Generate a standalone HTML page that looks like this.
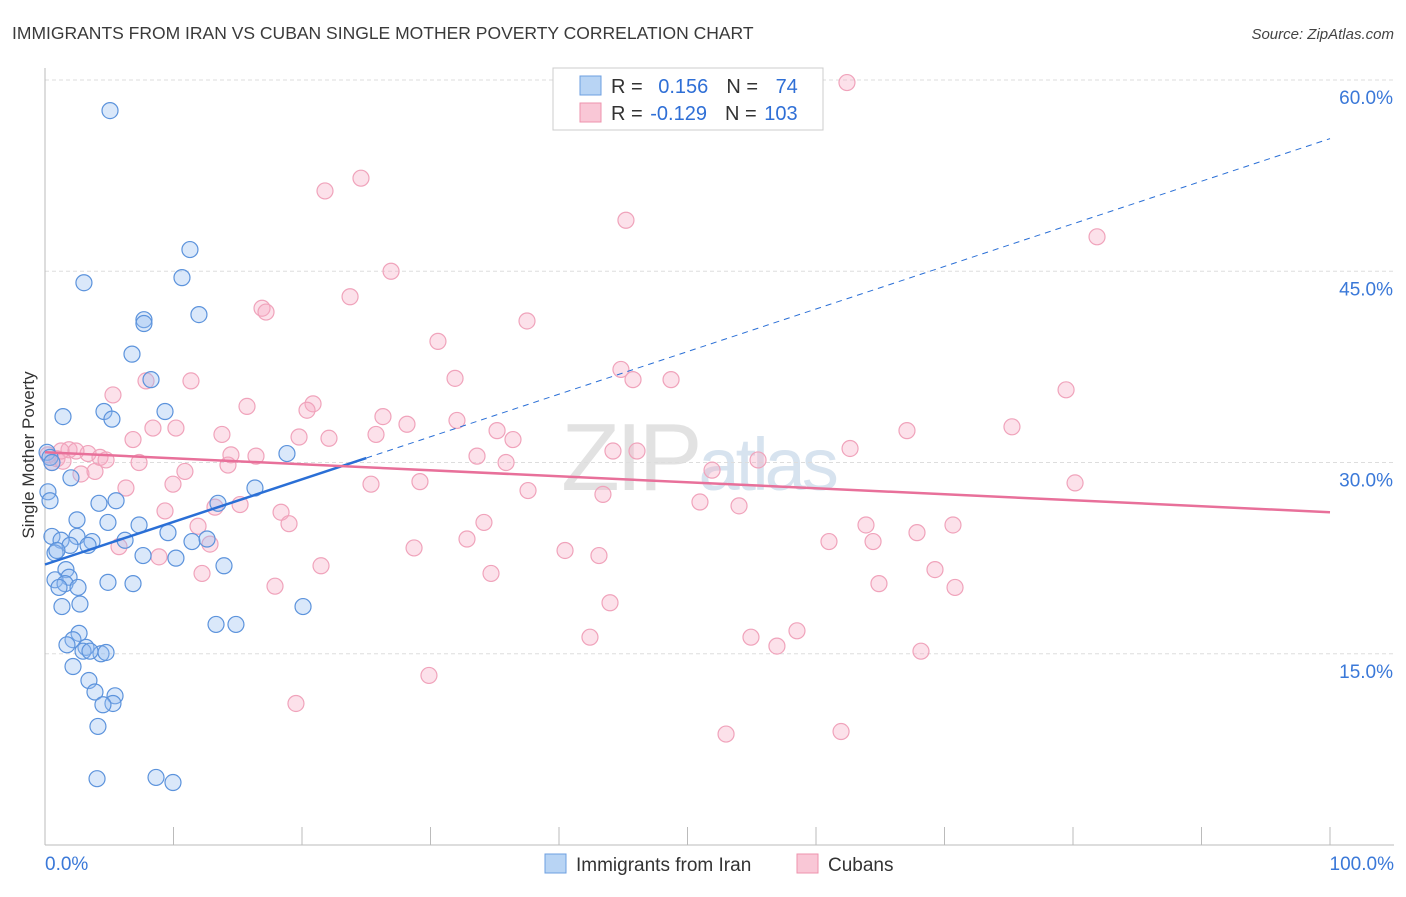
<!DOCTYPE html>
<html><head><meta charset="utf-8"><style>
body{margin:0;background:#fff;font-family:"Liberation Sans",sans-serif}
svg text{font-family:"Liberation Sans",sans-serif}
</style></head><body>
<svg id="chart" width="1406" height="892" xmlns="http://www.w3.org/2000/svg">
<text x="12" y="39" font-size="17.5" fill="#3a3a3a">IMMIGRANTS FROM IRAN VS CUBAN SINGLE MOTHER POVERTY CORRELATION CHART</text>
<text x="1394" y="39" font-size="15" fill="#444" text-anchor="end" font-style="italic">Source: ZipAtlas.com</text>
<text x="698" y="490" font-size="96" fill="#e2e2e2" text-anchor="middle" font-family="Liberation Serif" letter-spacing="-4">ZIP<tspan font-family="Liberation Sans" font-size="74" fill="#d7e3ef">atlas</tspan></text>
<g id="grid"></g><g id="axes"></g><g id="pts"></g><g id="lines"></g>
<text transform="translate(34,455) rotate(-90)" font-size="17" fill="#333" text-anchor="middle">Single Mother Poverty</text>
<g>
<rect x="553" y="68" width="270" height="62" fill="#fff" stroke="#ccc"/>
<rect x="580" y="76" width="21" height="19" fill="#b8d4f4" stroke="#6d9fe0"/>
<rect x="580" y="103" width="21" height="19" fill="#f9c7d6" stroke="#ee93ad"/>
<text x="611" y="93" font-size="20" fill="#333">R = <tspan fill="#2f6fd6" dx="10">0.156</tspan><tspan dx="18" fill="#333">N = </tspan><tspan dx="12" fill="#2f6fd6">74</tspan></text>
<text x="611" y="120" font-size="20" fill="#333">R = <tspan fill="#2f6fd6" dx="2">-0.129</tspan><tspan dx="18" fill="#333">N = </tspan><tspan dx="2" fill="#2f6fd6">103</tspan></text>
</g>
<g>
<rect x="545" y="854" width="21" height="19" fill="#b8d4f4" stroke="#6d9fe0"/>
<text x="576" y="871" font-size="19" fill="#333">Immigrants from Iran</text>
<rect x="797" y="854" width="21" height="19" fill="#f9c7d6" stroke="#ee93ad"/>
<text x="828" y="871" font-size="19" fill="#333">Cubans</text>
</g>
</svg>
<script>
const yTicks=[15,30,45,60];
const yTickLabels=["15.0%","30.0%","45.0%","60.0%"];
const xTickLabels=["0.0%","100.0%"];
const blueX=[5.06,3.03,11.28,10.66,7.70,7.70,11.98,6.77,8.25,9.34,4.59,5.21,1.40,18.83,0.23,0.39,2.02,4.20,5.53,16.34,13.46,2.49,4.90,7.32,9.57,11.44,12.61,0.54,1.25,2.49,3.66,3.35,1.95,6.23,0.78,0.93,7.63,10.19,13.93,1.63,1.87,0.78,1.56,1.09,2.57,4.90,6.85,1.32,2.72,20.08,13.31,14.86,2.65,2.18,1.71,3.19,2.96,4.36,4.75,3.50,2.18,3.42,3.89,5.45,5.29,4.51,4.12,4.05,8.64,9.96,0.16,0.39,0.54];
const blueY=[57.6,44.1,46.7,44.5,41.2,40.9,41.6,38.5,36.5,34.0,34.0,33.4,33.6,30.7,27.7,27.0,28.8,26.8,27.0,28.0,26.8,25.5,25.3,25.1,24.5,23.8,24.0,24.2,23.9,24.2,23.8,23.5,23.5,23.9,22.9,23.1,22.7,22.5,21.9,21.6,21.0,20.8,20.5,20.2,20.2,20.6,20.5,18.7,18.9,18.7,17.3,17.3,16.6,16.1,15.7,15.5,15.2,15.0,15.1,15.2,14.0,12.9,12.0,11.7,11.1,11.0,9.3,5.2,5.3,4.9,30.8,30.4,30.0];
const pinkX=[62.41,24.59,21.79,45.21,81.87,26.93,23.74,16.89,17.20,37.51,30.58,31.91,44.82,45.76,48.72,79.46,11.36,7.86,5.29,15.72,20.86,20.39,26.30,8.40,10.19,32.06,28.17,75.25,67.08,13.77,19.77,22.10,35.18,36.42,25.76,6.85,1.87,3.35,4.28,4.75,0.54,0.93,1.40,0.23,1.25,2.41,62.65,44.20,46.07,33.62,55.49,14.47,16.42,7.32,14.24,35.88,51.91,10.89,2.80,3.89,9.96,29.18,25.37,80.16,6.30,43.42,37.59,50.97,54.01,15.18,13.23,9.34,18.37,18.99,34.16,11.91,63.89,70.66,67.86,64.44,32.84,61.01,12.84,5.76,28.72,40.47,43.11,8.87,21.48,12.22,34.71,69.26,64.90,17.90,70.82,43.97,58.52,54.94,56.96,42.41,68.17,29.88,19.53,53.00,61.95];
const pinkY=[59.8,52.3,51.3,49.0,47.7,45.0,43.0,42.1,41.8,41.1,39.5,36.6,37.3,36.5,36.5,35.7,36.4,36.4,35.3,34.4,34.6,34.1,33.6,32.7,32.7,33.3,33.0,32.8,32.5,32.2,32.0,31.9,32.5,31.8,32.2,31.8,31.0,30.7,30.4,30.2,30.0,30.3,30.1,30.6,30.9,30.9,31.1,30.9,30.9,30.5,30.2,30.6,30.5,30.0,29.8,30.0,29.4,29.3,29.1,29.3,28.3,28.5,28.3,28.4,28.0,27.5,27.8,26.9,26.6,26.7,26.5,26.2,26.1,25.2,25.3,25.0,25.1,25.1,24.5,23.8,24.0,23.8,23.6,23.4,23.3,23.1,22.7,22.6,21.9,21.3,21.3,21.6,20.5,20.3,20.2,19.0,16.8,16.3,15.6,16.3,15.2,13.3,11.1,8.7,8.9];
const blueTrend=[22.0,55.4];
const blueSolidEnd=25;
const pinkTrend=[30.8,26.1];
const NS="http://www.w3.org/2000/svg";
const X0=45,X1=1330,Y0=845,YS=12.75;
function sx(v){return X0+(X1-X0)*v/100;}
function sy(v){return Y0-v*YS;}
function mk(t,a,p){const e=document.createElementNS(NS,t);for(const k in a)e.setAttribute(k,a[k]);p.appendChild(e);return e;}
const grid=document.getElementById('grid'),axes=document.getElementById('axes');
yTicks.forEach((t,i)=>{
 const l=mk('line',{x1:45,x2:1394,y1:sy(t),y2:sy(t),stroke:'#ddd','stroke-dasharray':'4,3'},grid);
 
 
 const tx=mk('text',{x:1393,y:sy(t)+24,'font-size':19,fill:'#3a78d8','text-anchor':'end'},axes);
 tx.textContent=yTickLabels[i];
 
 
});
const ax=mk('line',{x1:45,x2:1394,y1:Y0,y2:Y0,stroke:'#bbb'},axes);


const ay=mk('line',{x1:45,x2:45,y1:68,y2:Y0,stroke:'#bbb'},axes);


for(let i=0;i<=10;i++){const t=mk('line',{x1:sx(i*10),x2:sx(i*10),y1:Y0,y2:Y0-18,stroke:'#bbb'},axes);
 
 }
[[0,'start',45],[1,'end',1394]].forEach(([i,a,x])=>{const t=mk('text',{x:x,y:870,'font-size':19,fill:'#3a78d8','text-anchor':a},axes);t.textContent=xTickLabels[i];
 
 });
const pts=document.getElementById('pts');
pinkX.forEach((x,i)=>{const c=mk('circle',{cx:sx(x),cy:sy(pinkY[i]),r:8,fill:'rgba(246,170,195,0.35)',stroke:'#f0a3bb','stroke-width':1.2},pts);
 
 });
blueX.forEach((x,i)=>{const c=mk('circle',{cx:sx(x),cy:sy(blueY[i]),r:8,fill:'rgba(150,190,240,0.35)',stroke:'#5c93dc','stroke-width':1.2},pts);
 
 });
const lines=document.getElementById('lines');
function bt(x){return blueTrend[0]+(blueTrend[1]-blueTrend[0])*x/100;}
const l1=mk('line',{x1:sx(0),y1:sy(bt(0)),x2:sx(blueSolidEnd),y2:sy(bt(blueSolidEnd)),stroke:'#2a6fd6','stroke-width':2.5},lines);


const l2=mk('line',{x1:sx(blueSolidEnd),y1:sy(bt(blueSolidEnd)),x2:sx(100),y2:sy(bt(100)),stroke:'#2a6fd6','stroke-width':1,'stroke-dasharray':'6,5'},lines);


const l3=mk('line',{x1:sx(0),y1:sy(pinkTrend[0]),x2:sx(100),y2:sy(pinkTrend[1]),stroke:'#e8709a','stroke-width':2.5},lines);


</script>
</body></html>
